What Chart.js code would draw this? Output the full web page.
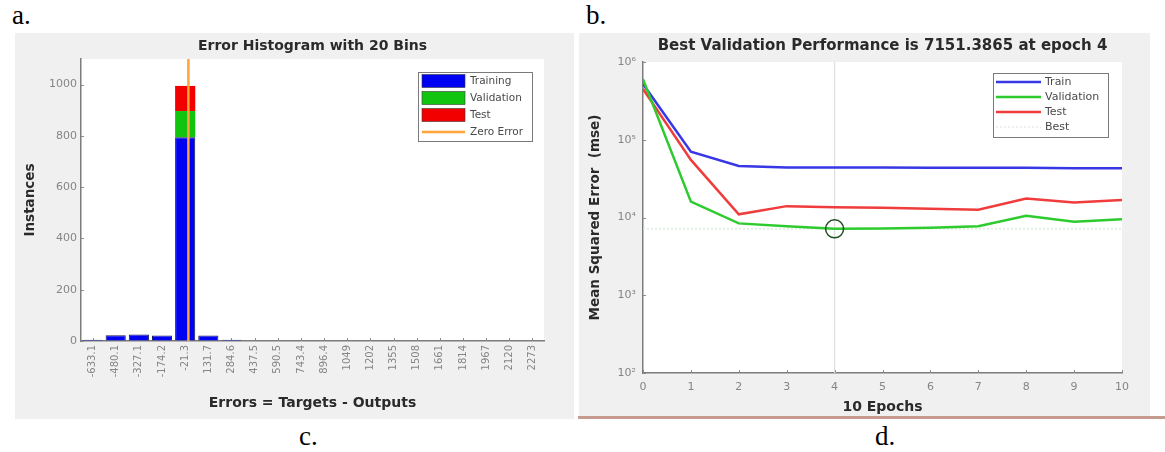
<!DOCTYPE html>
<html>
<head>
<meta charset="utf-8">
<script src="https://cdn.jsdelivr.net/npm/chart.js@4/dist/chart.umd.min.js"></script>
<style>
  html, body { margin: 0; padding: 0; background: #fff; }
  body { width: 1165px; height: 452px; position: relative; overflow: hidden; }
  .lab { position: absolute; font-family: "Liberation Serif", "Times New Roman", serif; font-size: 27px; line-height: 1; color: #000; }
  .panel { position: absolute; background: #f0f0f0; }
  #pA { left: 15px; top: 33px; width: 559px; height: 386px; }
  #pB { left: 579px; top: 33px; width: 571px; height: 383px; }
  #bLine { position: absolute; left: 578px; top: 416px; width: 587px; height: 3px; background: #c79a90; }
  canvas { display: block; }
</style>
</head>
<body>
<div class="lab" style="left:12px; top:2px;">a.</div>
<div class="lab" style="left:586px; top:2px;">b.</div>
<div class="lab" style="left:299px; top:423px;">c.</div>
<div class="lab" style="left:875px; top:423px;">d.</div>
<div class="panel" id="pA"><canvas id="cA" width="559" height="386"></canvas></div>
<div class="panel" id="pB"><canvas id="cB" width="571" height="383"></canvas></div>
<div id="bLine"></div>
<script>
// ---------- data: error histogram ----------
const histBinLabels = ['-633.1','-480.1','-327.1','-174.2','-21.3','131.7','284.6','437.5','590.5','743.4',
                       '896.4','1049','1202','1355','1508','1661','1814','1967','2120','2273'];
const histTraining   = [5, 22, 25, 21, 795, 21, 5, 0, 0, 0, 0, 0, 0, 0, 0, 0, 0, 0, 0, 0];
const histValidation = [0, 0, 0, 0, 102, 0, 0, 0, 0, 0, 0, 0, 0, 0, 0, 0, 0, 0, 0, 0];
const histTest       = [0, 0, 0, 0, 98, 0, 0, 0, 0, 0, 0, 0, 0, 0, 0, 0, 0, 0, 0, 0];
const histYTicks = [0, 200, 400, 600, 800, 1000];
const histYMax = 1100;
const zeroErrorX = [0, 0];
const zeroErrorY = [0, 1100];

// ---------- data: performance ----------
const epochs        = [0, 1, 2, 3, 4, 5, 6, 7, 8, 9, 10];
const trainMse      = [520000, 70000, 46000, 44000, 44000, 44000, 43500, 43500, 43500, 43000, 43000];
const validationMse = [600000, 16000, 8400, 7700, 7151.3865, 7200, 7400, 7700, 10500, 8800, 9500];
const testMse       = [450000, 55000, 11000, 14000, 13500, 13300, 13000, 12600, 17500, 15600, 16800];
const bestEpoch = 4;
const bestPerf = 7151.3865;
const perfYTickValues = [1e2, 1e3, 1e4, 1e5, 1e6];
const perfYTickLabels = ['10²', '10³', '10⁴', '10⁵', '10⁶'];

const F = "'DejaVu Sans', 'Liberation Sans', sans-serif";
const tickColor = '#858585';
const axisColor = '#7c7c7c';
const titleColor = '#2a2a2a';

// ---------- plugins ----------
const plotBg = {
  id: 'plotBg',
  beforeDraw(chart) {
    const { ctx, chartArea: a } = chart;
    ctx.save();
    ctx.fillStyle = '#ffffff';
    ctx.fillRect(a.left, a.top, a.right - a.left, a.bottom - a.top);
    ctx.restore();
  }
};

// chart title centred over the plot area (as MATLAB does)
const areaTitle = {
  id: 'areaTitle',
  afterDraw(chart, args, o) {
    const { ctx, chartArea: a } = chart;
    ctx.save();
    ctx.font = o.font;
    ctx.fillStyle = o.color;
    ctx.textAlign = 'center';
    ctx.textBaseline = 'middle';
    ctx.fillText(o.text, (a.left + a.right) / 2, o.y);
    ctx.restore();
  }
};

const inTicks = {
  id: 'inTicks',
  beforeDatasetsDraw(chart, args, o) {
    const { ctx, chartArea: a } = chart;
    const xs = chart.scales.x, ys = chart.scales.y;
    ctx.save();
    ctx.strokeStyle = o.color || axisColor;
    ctx.lineWidth = 1;
    ctx.beginPath();
    xs.ticks.forEach((t, i) => {
      const px = Math.round(xs.getPixelForTick(i)) + 0.5;
      ctx.moveTo(px, a.bottom); ctx.lineTo(px, a.bottom - o.len);
    });
    ys.ticks.forEach((t, i) => {
      const py = Math.round(ys.getPixelForTick(i)) + 0.5;
      ctx.moveTo(a.left, py); ctx.lineTo(a.left + o.len, py);
    });
    ctx.stroke();
    ctx.restore();
  }
};

const boxLegend = {
  id: 'boxLegend',
  afterDraw(chart, args, o) {
    if (!o || !o.w) return;
    const ctx = chart.ctx;
    const items = chart.data.datasets.filter(d => d.legendType);
    ctx.save();
    ctx.fillStyle = '#ffffff';
    ctx.fillRect(o.x, o.y, o.w, o.h);
    ctx.strokeStyle = o.border;
    ctx.lineWidth = 1;
    ctx.strokeRect(o.x + 0.5, o.y + 0.5, o.w, o.h);
    ctx.font = o.font;
    ctx.textBaseline = 'middle';
    ctx.textAlign = 'left';
    items.forEach((d, i) => {
      const cy = o.y + o.firstRow + i * o.rowH;
      if (d.legendType === 'patch') {
        ctx.fillStyle = d.backgroundColor;
        ctx.fillRect(o.sx0, cy - o.sh / 2, o.sx1 - o.sx0, o.sh);
        ctx.strokeStyle = '#3a3a3a';
        ctx.lineWidth = 0.6;
        ctx.strokeRect(o.sx0, cy - o.sh / 2, o.sx1 - o.sx0, o.sh);
      } else {
        ctx.strokeStyle = d.legendColor || d.borderColor;
        ctx.lineWidth = d.legendWidth || d.borderWidth;
        ctx.setLineDash(d.borderDash || []);
        ctx.beginPath();
        ctx.moveTo(o.sx0, cy); ctx.lineTo(o.sx1, cy);
        ctx.stroke();
        ctx.setLineDash([]);
      }
      ctx.fillStyle = o.textColor;
      ctx.fillText(d.label, o.tx, cy);
    });
    ctx.restore();
  }
};

// ---------- chart A: error histogram ----------
const binVals = histBinLabels.map(Number);
const binW = (binVals[binVals.length - 1] - binVals[0]) / (binVals.length - 1);

new Chart(document.getElementById('cA'), {
  type: 'bar',
  plugins: [plotBg, inTicks, boxLegend, areaTitle],
  data: {
    labels: histBinLabels,
    datasets: [
      { label: 'Training', data: histTraining, backgroundColor: '#0000f2', borderColor: '#17175c', borderWidth: 1,
        stack: 'h', grouped: false, barPercentage: 0.87, categoryPercentage: 1, legendType: 'patch', order: 2 },
      { label: 'Validation', data: histValidation, backgroundColor: '#10c410', borderWidth: 0,
        stack: 'h', grouped: false, barPercentage: 0.87, categoryPercentage: 1, legendType: 'patch', order: 2 },
      { label: 'Test', data: histTest, backgroundColor: '#f20000', borderWidth: 0,
        stack: 'h', grouped: false, barPercentage: 0.87, categoryPercentage: 1, legendType: 'patch', order: 2 },
      { type: 'line', label: 'Zero Error', xAxisID: 'x2', yAxisID: 'y', stack: 'zero',
        data: zeroErrorX.map((x, i) => ({ x: x, y: zeroErrorY[i] })),
        borderColor: '#ffa436', borderWidth: 2.5, pointRadius: 0, legendType: 'line', order: 0 }
    ]
  },
  options: {
    responsive: false,
    animation: false,
    layout: { padding: { left: 0, right: 30, top: 26, bottom: 0 } },
    plugins: {
      legend: { display: false },
      tooltip: { enabled: false },
      title: { display: false },
      areaTitle: { text: 'Error Histogram with 20 Bins', y: 13, color: titleColor, font: "bold 14px 'DejaVu Sans', sans-serif" },
      inTicks: { len: 3, color: '#8a8a8a' },
      boxLegend: { x: 403, y: 39, w: 114, h: 69, firstRow: 9, rowH: 17, sx0: 407, sx1: 450, sh: 13, tx: 455,
                   font: "10.5px 'DejaVu Sans', sans-serif", textColor: '#4a4a4a', border: '#7a7a7a' }
    },
    scales: {
      x: {
        stacked: true, offset: true,
        grid: { drawOnChartArea: false, drawTicks: false },
        border: { display: true, color: axisColor, width: 1.5 },
        ticks: { autoSkip: false, minRotation: 90, maxRotation: 90, padding: 4, color: tickColor,
                 font: { family: F, size: 10 } },
        title: { display: true, text: 'Errors = Targets - Outputs', color: titleColor,
                 font: { family: F, size: 14, weight: 'bold' }, padding: { top: 0, bottom: 7.6 } },
        afterFit(s) { s.height = 78; }
      },
      x2: { type: 'linear', display: false, offset: false, grid: { offset: false },
            min: binVals[0] - binW / 2, max: binVals[binVals.length - 1] + binW / 2 },
      y: {
        stacked: true, min: 0, max: histYMax,
        afterBuildTicks(s) { s.ticks = histYTicks.map(v => ({ value: v })); },
        grid: { drawOnChartArea: false, drawTicks: false },
        border: { display: true, color: axisColor, width: 1.5 },
        ticks: { padding: 4, color: tickColor, font: { family: F, size: 11 }, callback: (v) => String(v) },
        title: { display: true, text: 'Instances', color: titleColor,
                 font: { family: F, size: 13.5, weight: 'bold' }, padding: { top: 6.9 } },
        afterFit(s) { s.width = 66; }
      }
    }
  }
});

// ---------- chart B: performance ----------
const toXY = (arr) => epochs.map((e, i) => ({ x: e, y: arr[i] }));

new Chart(document.getElementById('cB'), {
  type: 'line',
  plugins: [plotBg, inTicks, boxLegend, areaTitle],
  data: {
    datasets: [
      { label: 'Train', data: toXY(trainMse), borderColor: '#3737e6', borderWidth: 2.5, pointRadius: 0, legendType: 'line', order: 3 },
      { label: 'Validation', data: toXY(validationMse), borderColor: '#2ecb2e', borderWidth: 2.5, pointRadius: 0, legendType: 'line', order: 1 },
      { label: 'Test', data: toXY(testMse), borderColor: '#f03c3c', borderWidth: 2.5, pointRadius: 0, legendType: 'line', order: 2 },
      { label: 'Best', data: [{ x: epochs[0], y: bestPerf }, { x: epochs[epochs.length - 1], y: bestPerf }],
        borderColor: '#d3e9d3', borderWidth: 1.2, borderDash: [2, 2], pointRadius: 0, legendType: 'line',
        legendColor: '#d9dfd9', order: 10 },
      { label: 'best epoch', data: [{ x: bestEpoch, y: perfYTickValues[0] }, { x: bestEpoch, y: perfYTickValues[perfYTickValues.length - 1] }],
        borderColor: '#dedede', borderWidth: 1.2, pointRadius: 0, order: 11 },
      { label: 'best point', data: [{ x: bestEpoch, y: bestPerf }], showLine: false, pointRadius: 9,
        pointBorderColor: '#1f4f1f', pointBackgroundColor: 'rgba(0,0,0,0)', pointBorderWidth: 1.5, order: 0 }
    ]
  },
  options: {
    responsive: false,
    animation: false,
    layout: { padding: { left: 0, right: 28, top: 29, bottom: 0 } },
    plugins: {
      legend: { display: false },
      tooltip: { enabled: false },
      title: { display: false },
      areaTitle: { text: 'Best Validation Performance is 7151.3865 at epoch 4', y: 13.5, color: titleColor,
                   font: "bold 15px 'DejaVu Sans', sans-serif" },
      inTicks: { len: 3, color: '#8a8a8a' },
      boxLegend: { x: 414, y: 40, w: 115, h: 64, firstRow: 9, rowH: 15, sx0: 417, sx1: 462, sh: 10, tx: 466,
                   font: "11px 'DejaVu Sans', sans-serif", textColor: '#4a4a4a', border: '#7a7a7a' }
    },
    scales: {
      x: {
        type: 'linear', min: epochs[0], max: epochs[epochs.length - 1],
        ticks: { stepSize: 1, padding: 8, color: tickColor, font: { family: F, size: 11 } },
        grid: { drawOnChartArea: false, drawTicks: false },
        border: { display: true, color: axisColor, width: 1.5 },
        title: { display: true, text: '10 Epochs', color: titleColor,
                 font: { family: F, size: 14, weight: 'bold' }, padding: { top: 0, bottom: 0.6 } },
        afterFit(s) { s.height = 43; }
      },
      y: {
        type: 'logarithmic', min: perfYTickValues[0], max: perfYTickValues[perfYTickValues.length - 1],
        afterBuildTicks(s) { s.ticks = perfYTickValues.map(v => ({ value: v })); },
        ticks: { padding: 7, color: tickColor, font: { family: F, size: 11 },
                 callback: (v) => { const k = perfYTickValues.indexOf(v); return k >= 0 ? perfYTickLabels[k] : ''; } },
        grid: { drawOnChartArea: false, drawTicks: false },
        border: { display: true, color: axisColor, width: 1.5 },
        title: { display: true, text: 'Mean Squared Error  (mse)', color: titleColor,
                 font: { family: F, size: 13.5, weight: 'bold' }, padding: { top: 7.9 } },
        afterFit(s) { s.width = 64; }
      }
    }
  }
});
</script>
</body>
</html>
